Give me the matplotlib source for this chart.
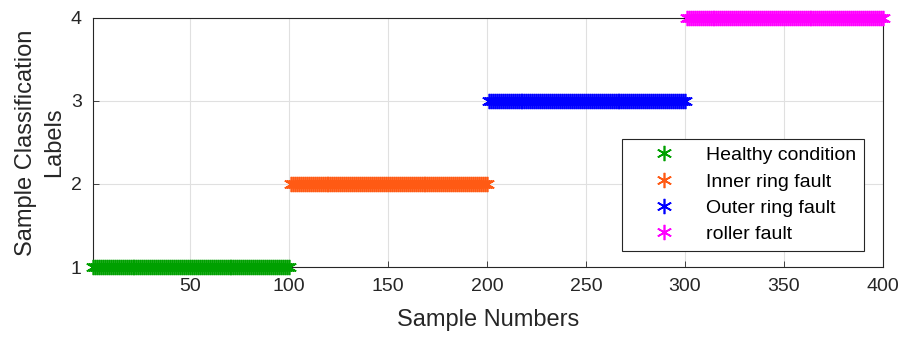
import numpy as np
import matplotlib
matplotlib.use("Agg")
import matplotlib.pyplot as plt

plt.rcParams["font.family"] = ["Liberation Sans", "DejaVu Sans"]

# 每类样本的编号范围与标签
class_names = ["Healthy condition", "Inner ring fault", "Outer ring fault", "roller fault"]
class_labels = [1, 2, 3, 4]
class_starts = [1, 101, 201, 301]
class_ends = [100, 200, 300, 400]
class_colors = ["#00a000", "#ff5a14", "#0000ff", "#ff00ff"]

x_ticks = [50, 100, 150, 200, 250, 300, 350, 400]
y_ticks = [1, 2, 3, 4]

fig = plt.figure(figsize=(9.11, 3.38), dpi=100)
ax = fig.add_axes([0.102, 0.21, 0.867, 0.737])

asterisk = (6, 2, 0)
for name, lab, s, e, c in zip(class_names, class_labels, class_starts, class_ends, class_colors):
    xs = np.arange(s, e + 1)
    ys = np.full(xs.shape, lab)
    ax.plot(xs, ys, linestyle="none", marker=asterisk, markersize=11,
            markeredgewidth=1.2, color=c, label=name, clip_on=False, zorder=3)

ax.set_xlim(1, 400)
ax.set_ylim(1, 4)
ax.set_xticks(x_ticks)
ax.set_yticks(y_ticks)
ax.tick_params(labelsize=14, colors="#262626", direction="in", length=4, width=0.6, pad=8)
ax.grid(True, color="#e0e0e0", linewidth=0.8)
for sp in ax.spines.values():
    sp.set_color("#262626")
    sp.set_linewidth(0.8)

ax.set_xlabel("Sample Numbers", fontsize=17, color="#262626", labelpad=10)
ax.set_ylabel("Sample Classification\nLabels", fontsize=17, color="#262626",
              labelpad=4, linespacing=1.35)

leg = ax.legend(loc="lower right", bbox_to_anchor=(0.976, 0.064), borderaxespad=0,
                fontsize=14, frameon=True, fancybox=False, edgecolor="#262626",
                framealpha=1, handlelength=3.5, handletextpad=0.4, borderpad=0.4,
                labelspacing=0.45)
leg.get_frame().set_linewidth(0.8)

fig.savefig("out.png", dpi=100)
